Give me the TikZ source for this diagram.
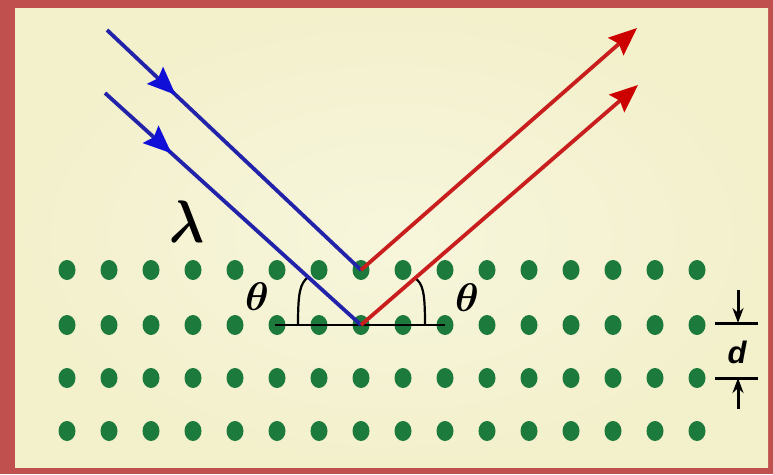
\documentclass[tikz,border=0pt]{standalone}
\usepackage{fontspec}
\newfontfamily\dfont{Liberation Sans}
\usetikzlibrary{arrows.meta,decorations.markings,shapes.geometric}
\definecolor{framered}{RGB}{192,80,77}
\definecolor{bgin}{RGB}{247,246,220}
\definecolor{bgout}{RGB}{243,240,204}
\definecolor{dotgreen}{RGB}{28,122,60}
\definecolor{rayblue}{RGB}{35,35,170}
\definecolor{headblue}{RGB}{15,15,215}
\definecolor{rayred}{RGB}{200,30,30}
\definecolor{headred}{RGB}{205,0,0}
\begin{document}
\begin{tikzpicture}[x=1pt,y=-1pt,
  dot/.style={ellipse,fill=dotgreen,draw=none,minimum width=17pt,minimum height=20pt,inner sep=0pt},
  inray/.style={draw=rayblue,line width=3.8pt,postaction={decorate},
    decoration={markings,mark=at position #1 with {\arrow[headblue]{Stealth[length=28pt,width=23pt,inset=4pt]}}}},
  outray/.style={draw=rayred,line width=3.8pt,-{Stealth[length=28pt,width=23pt,inset=4pt,color=headred]}},
  angmark/.style={draw=black,line width=2.2pt},
  gap/.style={draw=black,line width=3pt},
  gaparrow/.style={draw=black,line width=3pt,-{Stealth[length=15pt,width=11pt]}},
  lbl/.style={inner sep=0pt}
]
\useasboundingbox (0,0) rectangle (773,474);
\fill[framered] (0,0) rectangle (773,474);
\shade[inner color=bgin,outer color=bgout] (15,8) rectangle (768,467);

% lattice of atoms
\foreach \r/\y in {1/270,2/325,3/378,4/431}
  \foreach \c in {0,...,15}
    \node[dot] (p-\r-\c) at ({67+42*\c},\y) {};

% ray end points
\coordinate (b1) at (107,30);
\coordinate (b2) at (105,93);
\coordinate (r1) at (637,28);
\coordinate (r2) at (638,85);

% surface line
\coordinate (hl) at (275,325);
\coordinate (hr) at (445,325);
\draw[angmark] (hl) -- (hr);

% angle marks
\draw[angmark] (298,325) .. controls (298,292) and (300,284) .. (308,277);
\draw[angmark] (425,325) .. controls (425,292) and (423,284) .. (415,278);

% incident rays
\draw[inray=0.27] (b1) -- (p-1-7.center);
\draw[inray=0.26] (b2) -- (p-2-7.center);
% reflected rays
\draw[outray] (p-1-7.center) -- (r1);
\draw[outray] (p-2-7.center) -- (r2);

% labels
\node[lbl] (thl) at (257,297) {\scalebox{4}{\boldmath$\theta$}};
\node[lbl] (thr) at (467,298) {\scalebox{4}{\boldmath$\theta$}};
\node[lbl] (lam) at (187,222) {\scalebox{5.2}[6]{\boldmath$\lambda$}};

% spacing marker d
\coordinate (dt1) at (715,323);
\coordinate (dt2) at (758,323);
\coordinate (db1) at (715,378);
\coordinate (db2) at (758,378);
\coordinate (dm1) at (738,323);
\coordinate (dm2) at (738,378);
\coordinate (at) at (738,290);
\coordinate (ab) at (738,409);
\draw[gap] (dt1) -- (dt2);
\draw[gap] (db1) -- (db2);
\draw[gaparrow] (at) -- (dm1);
\draw[gaparrow] (ab) -- (dm2);
\node[lbl,font=\dfont\bfseries\itshape\fontsize{31}{31}\selectfont] (dl) at (737,352) {d};
\end{tikzpicture}
\end{document}
